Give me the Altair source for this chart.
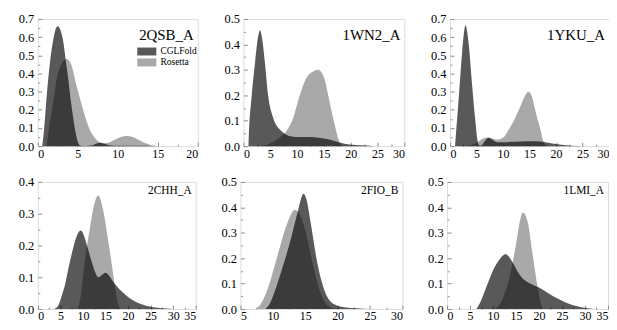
import altair as alt
import pandas as pd
import numpy as np

names = ["2QSB_A", "1WN2_A", "1YKU_A", "2CHH_A", "2FIO_B", "1LMI_A"]
x_domains = [[0, 20], [0, 30], [0, 30], [0, 35], [5, 30], [0, 35]]
y_max = [0.7, 0.5, 0.7, 0.4, 0.5, 0.5]
series_names = ["CGLFold", "Rosetta"]

# Panel 1: 2QSB_A
p1_cgl_x = [0.55, 0.8, 1.12, 1.53, 1.95, 2.2, 2.48, 2.9, 3.19, 3.5, 3.81, 4.1, 4.43, 4.7, 5.05, 5.3, 6.0, 6.7, 7.2, 7.7, 8.2, 8.7, 9.2, 10, 12, 15]
p1_cgl_y = [0, 0.1, 0.28, 0.465, 0.59, 0.64, 0.66, 0.63, 0.574, 0.47, 0.37, 0.26, 0.155, 0.08, 0.018, 0.002, 0.001, 0.003, 0.012, 0.019, 0.015, 0.008, 0.003, 0.002, 0.002, 0]
p1_ros_x = [1.1, 1.4, 1.74, 2.0, 2.36, 3.0, 3.6, 4.2, 4.8, 5.47, 6.1, 6.7, 7.3, 7.95, 8.5, 9.0, 9.5, 10.0, 10.5, 11.0, 11.5, 12.0, 12.5, 13.0, 13.5, 14.0, 14.5, 15.0]
p1_ros_y = [0, 0.1, 0.19, 0.26, 0.37, 0.455, 0.48, 0.447, 0.34, 0.23, 0.137, 0.073, 0.037, 0.018, 0.017, 0.022, 0.032, 0.043, 0.052, 0.056, 0.054, 0.047, 0.037, 0.026, 0.016, 0.008, 0.003, 0]

# Panel 2: 1WN2_A
p2_cgl_x = [0.93, 1.0, 1.55, 2.17, 2.78, 3.1, 3.5, 4.0, 4.6, 5.56, 6.8, 8.0, 9.0, 10.5, 12.35, 14.0, 16.0, 17.9, 19.8, 22.0, 24.0, 25.0]
p2_cgl_y = [0, 0.04, 0.2, 0.33, 0.436, 0.456, 0.42, 0.33, 0.2, 0.11, 0.065, 0.045, 0.038, 0.036, 0.036, 0.033, 0.026, 0.014, 0.006, 0.003, 0.001, 0]
p2_ros_x = [3.0, 5.0, 6.0, 7.0, 8.0, 9.26, 10.5, 11.7, 13.0, 13.9, 15.1, 15.8, 16.5, 17.0, 17.6, 18.2, 18.5]
p2_ros_y = [0, 0.01, 0.022, 0.038, 0.059, 0.11, 0.2, 0.267, 0.293, 0.3, 0.265, 0.2, 0.13, 0.085, 0.035, 0.005, 0]

# Panel 3: 1YKU_A
p3_cgl_x = [0.93, 1.2, 1.68, 2.29, 2.92, 3.54, 4.16, 4.78, 5.2, 5.5, 5.9, 6.5, 7.26, 8.0, 8.8, 10.0, 12.0, 14.7, 17.0, 19.0, 21.0, 23.0, 25.0]
p3_cgl_y = [0, 0.1, 0.283, 0.52, 0.665, 0.556, 0.337, 0.137, 0.03, 0.005, 0.004, 0.025, 0.046, 0.035, 0.022, 0.022, 0.024, 0.027, 0.026, 0.016, 0.007, 0.002, 0]
p3_ros_x = [2.5, 4.0, 5.0, 6.0, 7.0, 8.0, 9.0, 10.3, 11.05, 12.2, 13.5, 14.2, 14.8, 15.3, 16.0, 16.5, 17.0, 17.6, 18.0, 18.4]
p3_ros_y = [0, 0.006, 0.018, 0.038, 0.047, 0.042, 0.036, 0.055, 0.09, 0.15, 0.235, 0.28, 0.3, 0.285, 0.209, 0.15, 0.1, 0.027, 0.008, 0]

# Panel 4: 2CHH_A
p4_cgl_x = [3.6, 4.5, 5.3, 6.0, 6.75, 7.85, 8.7, 9.54, 10.3, 10.9, 11.9, 12.8, 13.4, 14.2, 15.0, 15.8, 16.5, 17.5, 18.5, 20.7, 23.0, 25.0, 27.0, 30.0]
p4_cgl_y = [0, 0.01, 0.042, 0.075, 0.125, 0.193, 0.232, 0.247, 0.228, 0.2, 0.151, 0.113, 0.1, 0.107, 0.114, 0.105, 0.09, 0.072, 0.057, 0.031, 0.015, 0.007, 0.003, 0]
p4_ros_x = [8.8, 9.5, 10.4, 11.5, 12.25, 13.4, 14.45, 15.55, 16.65, 17.4, 18.2]
p4_ros_y = [0, 0.04, 0.15, 0.25, 0.313, 0.357, 0.313, 0.22, 0.115, 0.042, 0]

# Panel 5: 2FIO_B
p5_cgl_x = [8.8, 9.5, 10.3, 11.24, 12.77, 13.8, 14.75, 15.2, 15.84, 16.86, 17.9, 19.4, 21.0, 23.0, 25.0]
p5_cgl_y = [0, 0.02, 0.07, 0.143, 0.274, 0.378, 0.453, 0.43, 0.339, 0.182, 0.078, 0.02, 0.007, 0.003, 0]
p5_ros_x = [7.3, 8.0, 9.19, 10.7, 12.26, 13.4, 14.3, 15.0, 15.8, 16.6, 17.4, 18.2, 19.0, 20.0]
p5_ros_y = [0, 0.015, 0.078, 0.208, 0.339, 0.39, 0.365, 0.31, 0.22, 0.13, 0.06, 0.022, 0.006, 0]

# Panel 6: 1LMI_A
p6_cgl_x = [6.35, 7.3, 8.5, 9.94, 11.4, 12.7, 13.5, 14.3, 15.7, 17.1, 18.5, 20.0, 21.5, 22.9, 25.8, 28.7, 31.0, 32.0]
p6_cgl_y = [0, 0.03, 0.085, 0.15, 0.195, 0.215, 0.205, 0.182, 0.137, 0.11, 0.097, 0.085, 0.068, 0.052, 0.026, 0.009, 0.002, 0]
p6_ros_x = [10.3, 11.5, 12.5, 13.55, 15.0, 15.9, 16.5, 17.5, 18.6, 19.7, 20.3, 20.8]
p6_ros_y = [0, 0.02, 0.06, 0.124, 0.254, 0.35, 0.38, 0.345, 0.215, 0.085, 0.03, 0]

cgl_x = [p1_cgl_x, p2_cgl_x, p3_cgl_x, p4_cgl_x, p5_cgl_x, p6_cgl_x]
cgl_y = [p1_cgl_y, p2_cgl_y, p3_cgl_y, p4_cgl_y, p5_cgl_y, p6_cgl_y]
ros_x = [p1_ros_x, p2_ros_x, p3_ros_x, p4_ros_x, p5_ros_x, p6_ros_x]
ros_y = [p1_ros_y, p2_ros_y, p3_ros_y, p4_ros_y, p5_ros_y, p6_ros_y]

FONT = "Liberation Serif"
FRAME = "#8c8c8c"

color = alt.Color(
    "series:N",
    scale=alt.Scale(domain=series_names, range=["rgba(0,0,0,0.65)", "#a9a9a9"]),
    legend=alt.Legend(
        title=None, orient="none", legendX=105, legendY=28,
        symbolType="M-2.4,-1H2.4V1H-2.4Z", symbolSize=64, symbolStrokeWidth=0,
        labelFont=FONT, labelFontSize=9.5, labelColor="black", labelOffset=9,
        rowPadding=0, padding=0,
    ),
)


def panel(i, w, h, tsize, ty):
    lo, hi = x_domains[i]
    ym = y_max[i]
    xs = alt.Scale(domain=[lo, hi], nice=False, zero=False)
    ys = alt.Scale(domain=[0, ym], nice=False)
    x_major = [float(v) for v in np.arange(lo, hi + 0.01, 5)]
    x_minor = [float(v) for v in np.arange(lo, hi + 0.01, 2.5)]
    y_major = [round(float(v), 2) for v in np.arange(0, ym + 0.001, 0.1)]
    y_minor = [round(float(v), 3) for v in np.arange(0, ym + 0.001, 0.05)]

    df_c = pd.DataFrame({"x": cgl_x[i], "y": cgl_y[i], "series": series_names[0]})
    df_r = pd.DataFrame({"x": ros_x[i], "y": ros_y[i], "series": series_names[1]})

    ros = alt.Chart(df_r).mark_area(interpolate="monotone").encode(
        x=alt.X("x:Q", scale=xs, axis=alt.Axis(
            orient="bottom", values=x_major, format="d", ticks=False, domain=False,
            grid=False, title=None, labelFont=FONT, labelFontSize=12,
            labelColor="black", labelPadding=2)),
        y=alt.Y("y:Q", scale=ys, stack=None, axis=alt.Axis(
            orient="left", values=y_major, format=".1f", ticks=False, domain=False,
            grid=False, title=None, labelFont=FONT, labelFontSize=12.5,
            labelColor="black", labelPadding=4)),
        color=color,
    )
    cgl = alt.Chart(df_c).mark_area(interpolate="monotone").encode(
        x=alt.X("x:Q", scale=xs, axis=alt.Axis(
            orient="top", offset=-h, values=x_minor, labels=False, domain=False,
            grid=False, title=None, tickColor=FRAME, tickWidth=1,
            tickSize={"condition": {"test": "datum.value % 5 === 0", "value": 4}, "value": 2})),
        y=alt.Y("y:Q", scale=ys, stack=None, axis=alt.Axis(
            orient="right", offset=-w, values=y_minor, labels=False, domain=False,
            grid=False, title=None, tickColor=FRAME, tickWidth=1,
            tickSize={"condition": {"test": "abs(datum.value*10 - round(datum.value*10)) < 0.001", "value": 4}, "value": 2})),
        color=color,
    )
    txt = alt.Chart(pd.DataFrame({"name": [names[i]]})).mark_text(
        align="right", baseline="alphabetic", font=FONT, fontSize=tsize, color="black"
    ).encode(text="name:N", x=alt.value(w - 4), y=alt.value(ty))
    return alt.layer(ros, cgl, txt).resolve_axis(x="independent", y="independent").properties(width=w, height=h)


row1 = alt.hconcat(panel(0, 161, 128, 15, 21), panel(1, 162, 128, 15, 21), panel(2, 160, 128, 15, 21),
                   spacing=46, bounds="flush")
row2 = alt.hconcat(panel(3, 159, 128, 11.5, 12), panel(4, 163, 128, 11.5, 12), panel(5, 162, 128, 11.5, 12),
                   spacing=45, bounds="flush")

chart = alt.vconcat(row1, row2, spacing=15, bounds="full").properties(
    padding={"left": 9, "top": 3, "right": -1, "bottom": 0}
).configure_view(stroke=FRAME, strokeWidth=1).configure(background="white")

chart.save("out.html", embed_options={"renderer": "svg", "actions": False})
